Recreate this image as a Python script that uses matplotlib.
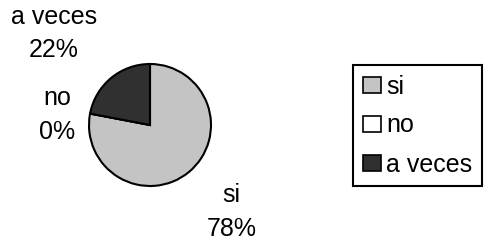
import matplotlib.pyplot as plt
from matplotlib.patches import Patch

categories = ["si", "no", "a veces"]
values = [78, 0, 22]
colors = ["#c4c4c4", "#ffffff", "#303030"]

plt.rcParams['font.family'] = ['Liberation Sans', 'DejaVu Sans']

fig = plt.figure(figsize=(4.86, 2.42), dpi=100)
# pie centre at (150,125) px, radius 61 px
ax = fig.add_axes([89 / 486, (242 - 186) / 242, 122 / 486, 122 / 242])
ax.axis('off')

wedges, _ = ax.pie(values, colors=colors, startangle=90, counterclock=False,
                   radius=1, wedgeprops=dict(edgecolor='black', linewidth=1.5))
for w in wedges:
    w.set_clip_on(False)
ax.set_xlim(-1, 1)
ax.set_ylim(-1, 1)

# data labels
lab_pos = [(1.34, -1.43), (-1.52, 0.16), (-1.58, 1.50)]
for cat, v, (x, y) in zip(categories, values, lab_pos):
    ax.text(x, y, f"{cat}\n{v}%", ha='center', va='center', fontsize=18,
            linespacing=1.5)

handles = [Patch(facecolor=c, edgecolor='black', linewidth=1.2) for c in colors]
leg = fig.legend(handles, categories, loc='upper left',
                 bbox_to_anchor=(353 / 486, 1 - 65 / 242),
                 bbox_transform=fig.transFigure, fontsize=18,
                 frameon=True, fancybox=False, framealpha=1,
                 handlelength=0.72, handleheight=0.6, handletextpad=0.22,
                 labelspacing=0.6, borderpad=0.38, borderaxespad=0)
leg.get_frame().set_edgecolor('black')
leg.get_frame().set_linewidth(1.5)

fig.savefig("out.png", dpi=100)
